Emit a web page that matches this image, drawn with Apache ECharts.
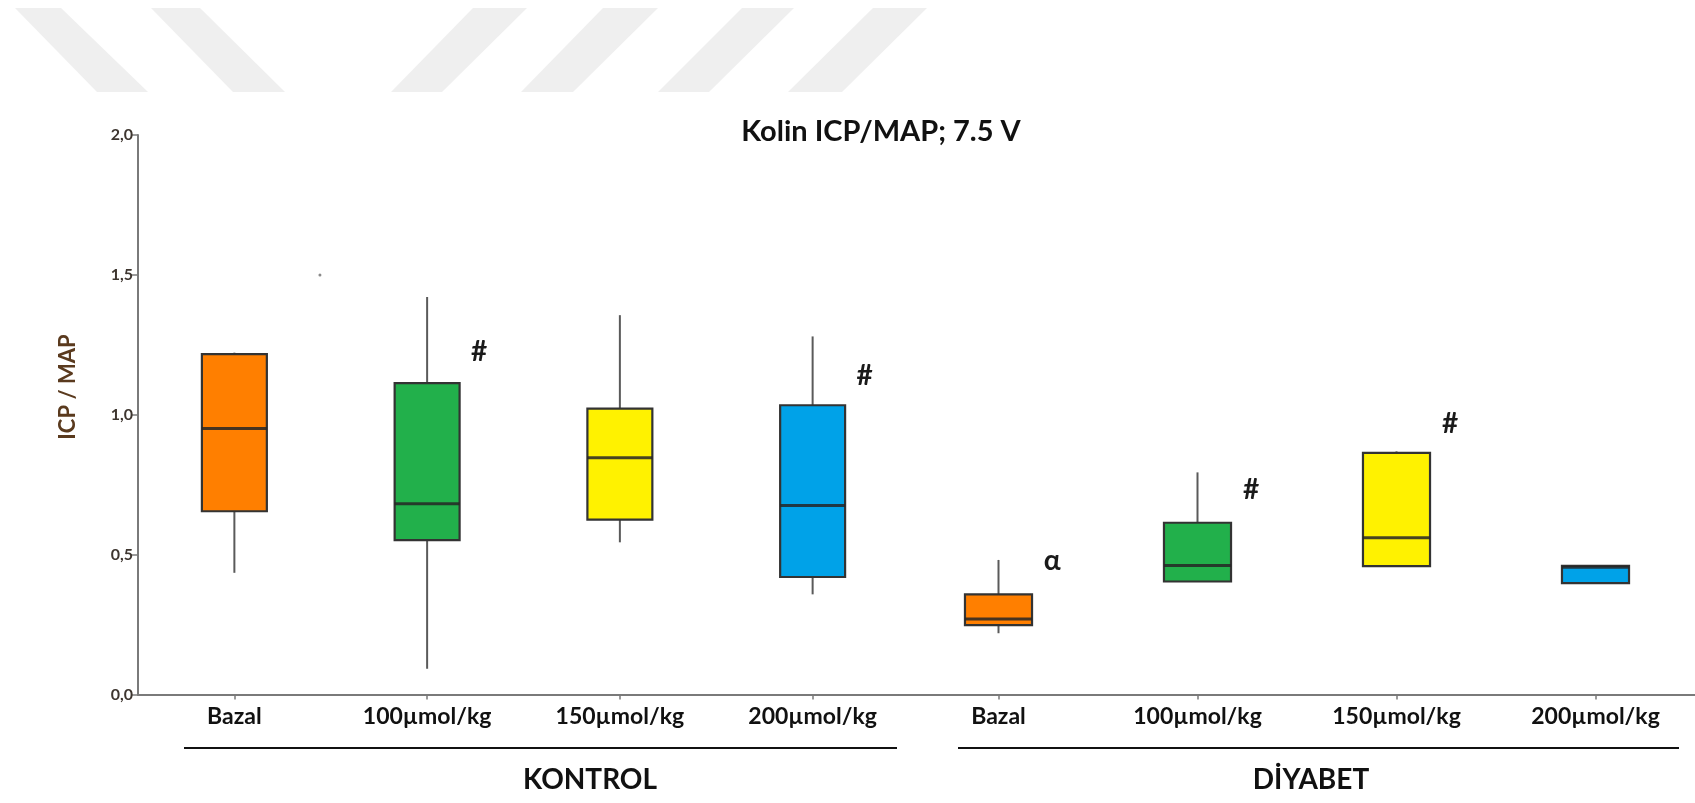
<!DOCTYPE html>
<html>
<head>
<meta charset="utf-8">
<script src="https://cdn.jsdelivr.net/npm/echarts@6/dist/echarts.min.js"></script>
<style>
  html, body { margin: 0; padding: 0; background: #fff; }
  #chart { width: 1695px; height: 803px; }
</style>
</head>
<body>
<div id="chart"></div>
<script>
// Dose categories, shared by both groups
const doseLabels = ['Bazal', '100µmol/kg', '150µmol/kg', '200µmol/kg'];
const groupNames = ['KONTROL', 'DİYABET'];

// Box statistics per dose: [min, Q1, median, Q3, max]
const kontrolStats = [
  [0.435, 0.655, 0.951, 1.217, 1.222],
  [0.092, 0.552, 0.682, 1.113, 1.421],
  [0.544, 0.625, 0.846, 1.022, 1.356],
  [0.358, 0.420, 0.676, 1.034, 1.280]
];
const diyabetStats = [
  [0.219, 0.248, 0.270, 0.358, 0.481],
  [0.404, 0.404, 0.461, 0.614, 0.794],
  [0.459, 0.459, 0.560, 0.864, 0.869],
  [0.398, 0.398, 0.455, 0.460, 0.460]
];

// Stray point above the control baseline: [dose index (fractional), value]
const kontrolOutlier = [[0.444, 1.50]];

// Significance marks: dose index, level on the ICP/MAP scale, symbol
const kontrolMarkDose = [1, 3];
const kontrolMarkLevel = [1.224, 1.139];
const kontrolMarkText = ['#', '#'];
const diyabetMarkDose = [0, 1, 2];
const diyabetMarkLevel = [0.477, 0.731, 0.967];
const diyabetMarkText = ['α', '#', '#'];

// Y axis ticks
const yTicks = [0, 0.5, 1.0, 1.5, 2.0];

const boxColors = ['#FF7F00', '#22B04B', '#FFF200', '#00A2E8'];
const FONT = 'Lato, "Open Sans", "Liberation Sans", sans-serif';
const HEAVY = 'bold';

function boxData(stats) {
  return stats.map((s, i) => [i].concat(s));
}

function renderBox(params, api) {
  const idx = api.value(0);
  const mn = api.value(1), q1 = api.value(2), md = api.value(3), q3 = api.value(4), mx = api.value(5);
  const band = api.size([1, 0])[0];
  const w = band * 0.337;
  const cx = api.coord([idx, 0])[0];
  const y = v => api.coord([idx, v])[1];
  const col = boxColors[params.dataIndex % boxColors.length];
  const children = [];
  if (mx > q3) {
    children.push({ type: 'line', shape: { x1: cx, y1: y(mx), x2: cx, y2: y(q3) },
      style: { stroke: '#5a5a5a', lineWidth: 2 } });
  }
  if (mn < q1) {
    children.push({ type: 'line', shape: { x1: cx, y1: y(q1), x2: cx, y2: y(mn) },
      style: { stroke: '#5a5a5a', lineWidth: 2 } });
  }
  children.push({ type: 'rect',
    shape: { x: cx - w / 2, y: y(q3), width: w, height: y(q1) - y(q3) },
    style: { fill: col, stroke: '#333', lineWidth: 2.2 } });
  children.push({ type: 'line', shape: { x1: cx - w / 2, y1: y(md), x2: cx + w / 2, y2: y(md) },
    style: { stroke: '#262626', lineWidth: 3, opacity: 0.85 } });
  return { type: 'group', children };
}

function makeMarkRenderer(texts) {
  return function (params, api) {
    const idx = api.value(0);
    const band = api.size([1, 0])[0];
    const p = api.coord([idx, api.value(1)]);
    return {
      type: 'text',
      x: p[0] + band * 0.27, y: p[1],
      style: { text: texts[params.dataIndex], fill: '#1a1a1a', font: HEAVY + ' 28px ' + FONT,
        align: 'center', verticalAlign: 'middle' }
    };
  };
}

// The category axis snaps to whole indices, so place the fractional part by band width
function renderDot(params, api) {
  const pos = api.value(0);
  const base = Math.floor(pos);
  const band = api.size([1, 0])[0];
  const p = api.coord([base, api.value(1)]);
  return { type: 'circle', shape: { cx: p[0] + (pos - base) * band, cy: p[1], r: 1.5 },
    style: { fill: '#8a8a8a' } };
}

// Light diagonal stripes across the page head
const stripes = [
  [[15, 8], [61, 8], [148, 92], [97, 92]],
  [[151, 8], [200, 8], [285, 92], [233, 92]],
  [[473, 8], [527, 8], [442, 92], [391, 92]],
  [[603, 8], [658, 8], [573, 92], [521, 92]],
  [[742, 8], [794, 8], [709, 92], [658, 92]],
  [[873, 8], [927, 8], [842, 92], [788, 92]]
];

const yAxisCommon = {
  type: 'value', min: 0, max: 2, interval: 0.5,
  splitLine: { show: false }
};
const xAxisCommon = {
  type: 'category', data: doseLabels, boundaryGap: true,
  axisLine: { show: true, lineStyle: { color: '#7a7a7a', width: 2 } },
  axisTick: { show: true, alignWithLabel: true, length: 5, lineStyle: { color: '#7a7a7a', width: 1.5 } },
  axisLabel: { color: '#111', fontFamily: FONT, fontWeight: HEAVY, fontSize: 23, margin: 11 }
};

const chart = echarts.init(document.getElementById('chart'), null, { renderer: 'canvas' });
chart.setOption({
  animation: false,
  backgroundColor: '#ffffff',
  title: {
    text: 'Kolin ICP/MAP; 7.5 V',
    left: 876, top: 112, textAlign: 'center',
    textStyle: { fontFamily: FONT, fontWeight: HEAVY, fontSize: 29, color: '#111' }
  },
  grid: [
    { left: 138, top: 135, width: 771, bottom: 108.5 },
    { left: 899, top: 135, width: 800, bottom: 108.5 }
  ],
  xAxis: [
    Object.assign({ gridIndex: 0 }, xAxisCommon),
    Object.assign({ gridIndex: 1 }, xAxisCommon)
  ],
  yAxis: [
    Object.assign({ gridIndex: 0 }, yAxisCommon, {
      axisLine: { show: true, lineStyle: { color: '#7a7a7a', width: 2 } },
      axisTick: { show: true, inside: false, length: 7, lineStyle: { color: '#7a7a7a', width: 1.5 } },
      axisLabel: {
        color: '#3e3630', fontFamily: FONT, fontWeight: HEAVY, fontSize: 16, margin: 5,
        formatter: v => yTicks.indexOf(v) >= 0 ? v.toFixed(1).replace('.', ',') : ''
      }
    }),
    Object.assign({ gridIndex: 1 }, yAxisCommon, {
      show: false
    })
  ],
  series: [
    { type: 'custom', name: groupNames[0], xAxisIndex: 0, yAxisIndex: 0,
      renderItem: renderBox, encode: { x: 0, y: [1, 2, 3, 4, 5] }, data: boxData(kontrolStats) },
    { type: 'custom', name: groupNames[1], xAxisIndex: 1, yAxisIndex: 1,
      renderItem: renderBox, encode: { x: 0, y: [1, 2, 3, 4, 5] }, data: boxData(diyabetStats) },
    { type: 'custom', xAxisIndex: 0, yAxisIndex: 0, renderItem: renderDot,
      encode: { y: 1 }, data: kontrolOutlier },
    { type: 'custom', xAxisIndex: 0, yAxisIndex: 0, renderItem: makeMarkRenderer(kontrolMarkText),
      encode: { x: 0, y: 1 }, data: kontrolMarkDose.map((d, i) => [d, kontrolMarkLevel[i]]) },
    { type: 'custom', xAxisIndex: 1, yAxisIndex: 1, renderItem: makeMarkRenderer(diyabetMarkText),
      encode: { x: 0, y: 1 }, data: diyabetMarkDose.map((d, i) => [d, diyabetMarkLevel[i]]) }
  ],
  graphic: [].concat(
    stripes.map(pts => ({ type: 'polygon', silent: true, z: -10,
      shape: { points: pts }, style: { fill: '#efefef' } })),
    [
      { type: 'text', x: 68, y: 387, rotation: Math.PI / 2,
        style: { text: 'ICP / MAP', font: HEAVY + ' 22px ' + FONT, fill: '#5a3a1e',
          align: 'center', verticalAlign: 'middle' } },
      { type: 'line', shape: { x1: 184, y1: 748, x2: 897, y2: 748 },
        style: { stroke: '#111', lineWidth: 2 } },
      { type: 'line', shape: { x1: 958, y1: 748, x2: 1679, y2: 748 },
        style: { stroke: '#111', lineWidth: 2 } },
      { type: 'text', x: 590, y: 780,
        style: { text: groupNames[0], font: HEAVY + ' 28px ' + FONT, fill: '#111',
          align: 'center', verticalAlign: 'middle' } },
      { type: 'text', x: 1311, y: 780,
        style: { text: groupNames[1], font: HEAVY + ' 28px ' + FONT, fill: '#111',
          align: 'center', verticalAlign: 'middle' } }
    ]
  )
});
</script>
</body>
</html>
